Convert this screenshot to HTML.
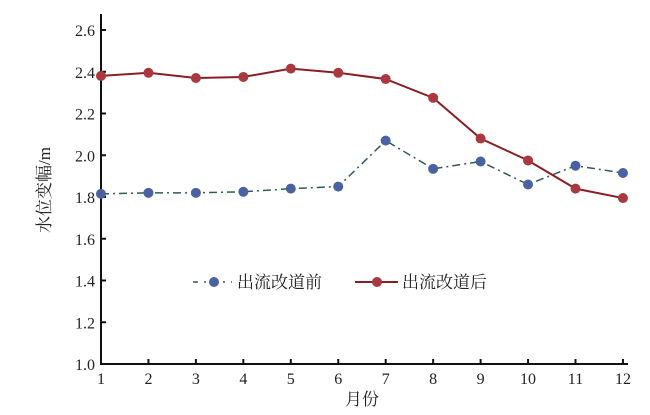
<!DOCTYPE html><html><head><meta charset="utf-8"><style>body{margin:0;background:#fff}svg{display:block}text{font-family:"Liberation Serif","Noto Serif CJK SC",serif;fill:#222}</style></head><body>
<svg width="650" height="415" viewBox="0 0 650 415" xmlns="http://www.w3.org/2000/svg">
<g stroke="#111" stroke-width="2" fill="none">
<path d="M101,14V364H628"/>
</g>
<g id="ax"></g>
<script>
const s='http://www.w3.org/2000/svg',svg=document.querySelector('svg');
function el(t,a,txt){const e=document.createElementNS(s,t);for(const k in a)e.setAttribute(k,a[k]);if(txt)e.textContent=txt;svg.appendChild(e);return e;}
const X=m=>101+(m-1)*47.45,Y=v=>364-(v-1)*208.75;
for(let i=0;i<=8;i++){const v=1+i*0.2,y=Y(v);el('line',{x1:101,x2:106,y1:y,y2:y,stroke:'#111','stroke-width':2});el('text',{x:95,y:y+6,'text-anchor':'end','font-size':16},v.toFixed(1));}
for(let m=1;m<=12;m++){el('line',{x1:X(m),x2:X(m),y1:364,y2:359,stroke:'#111','stroke-width':2});el('text',{x:X(m),y:384,'text-anchor':'middle','font-size':16},m);}
el('text',{x:362,y:405,'text-anchor':'middle','font-size':17},'月份');
el('text',{x:0,y:0,'text-anchor':'middle','font-size':17,transform:'translate(50,190) rotate(-90)'},'水位变幅/m');
const r=[2.38,2.395,2.37,2.375,2.415,2.395,2.365,2.275,2.08,1.975,1.84,1.795],b=[1.815,1.82,1.82,1.825,1.84,1.85,2.07,1.935,1.97,1.86,1.95,1.915];
el('polyline',{points:b.map((v,i)=>X(i+1)+','+Y(v)).join(' '),fill:'none',stroke:'#2f5a5a','stroke-width':1.5,'stroke-dasharray':'8,4,2,4'});
el('polyline',{points:r.map((v,i)=>X(i+1)+','+Y(v)).join(' '),fill:'none',stroke:'#8b1e25','stroke-width':2});
b.forEach((v,i)=>el('circle',{cx:X(i+1),cy:Y(v),r:5,fill:'#4a62a0'}));
r.forEach((v,i)=>el('circle',{cx:X(i+1),cy:Y(v),r:5,fill:'#a83a3f'}));
el('line',{x1:193,x2:232,y1:282,y2:282,stroke:'#2f5a5a','stroke-width':1.5,'stroke-dasharray':'5,6,2,6'});
el('circle',{cx:214,cy:282,r:5,fill:'#4a62a0'});
el('text',{x:237,y:288,'font-size':17},'出流改道前');
el('line',{x1:355,x2:398,y1:282,y2:282,stroke:'#8b1e25','stroke-width':2});
el('circle',{cx:377,cy:282,r:5,fill:'#a83a3f'});
el('text',{x:402,y:288,'font-size':17},'出流改道后');
</script>
</svg></body></html>
